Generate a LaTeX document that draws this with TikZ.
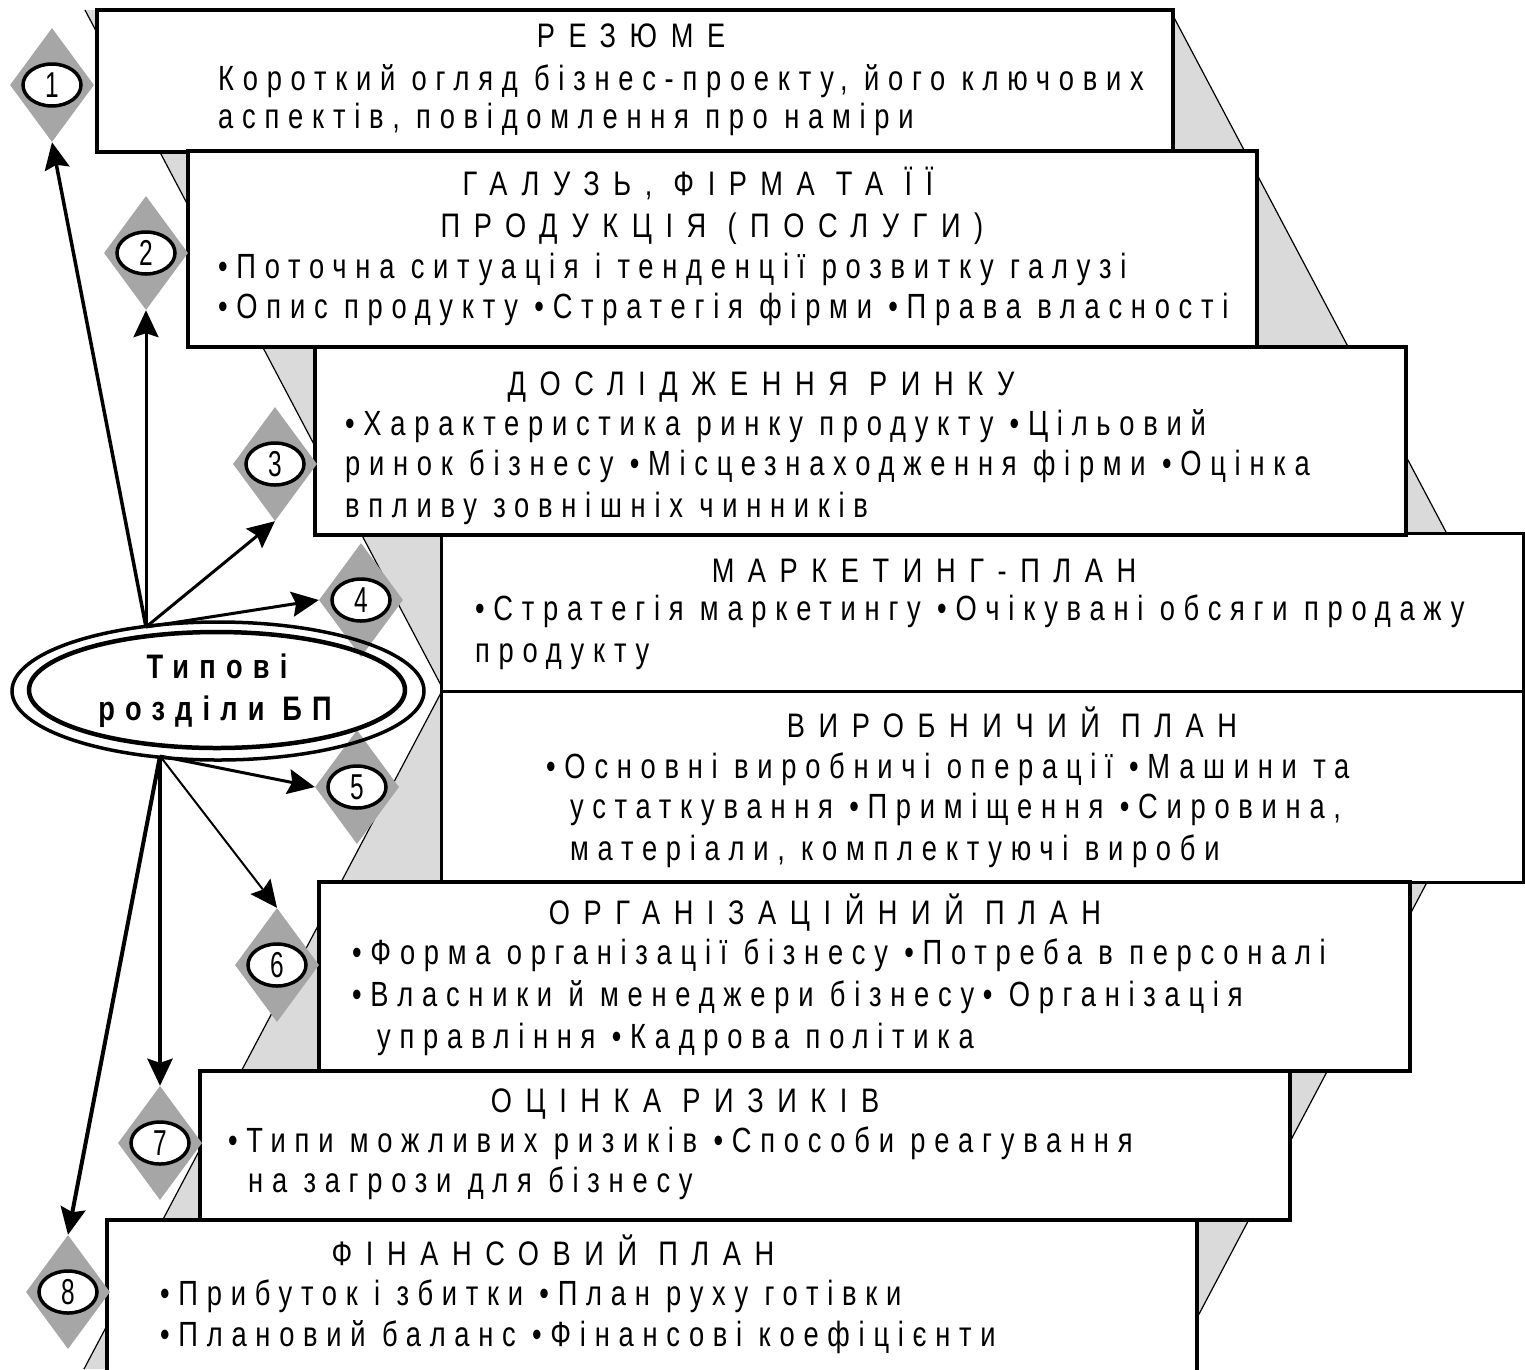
\documentclass[tikz,border=0pt]{standalone}
\usepackage{fontspec}
\setmainfont{Liberation Sans}[FakeStretch=0.78]
\newfontfamily\bodyfont{Liberation Sans}[FakeStretch=0.78,LetterSpace=25]
\newfontfamily\titlefont{Liberation Sans}[FakeStretch=0.8,LetterSpace=40]
\newfontfamily\numfont{Liberation Sans}[FakeStretch=0.68]
\newfontfamily\centrefont{Liberation Sans}[FakeStretch=0.8,LetterSpace=30]
\usetikzlibrary{shapes.geometric,arrows.meta}
\definecolor{bggrey}{RGB}{218,218,218}
\definecolor{diagrey}{RGB}{166,166,166}
\tikzset{
  box/.style={draw, fill=white, line width=4.5pt, inner sep=0},
  thinbox/.style={draw, fill=white, line width=3pt, inner sep=0},
  bline/.style={anchor=base west, inner sep=0, font=\bodyfont\fontsize{35}{40}\selectfont},
  ttl/.style={anchor=base, inner sep=0, font=\titlefont\fontsize{34}{40}\selectfont},
  dia/.style={diamond, fill=diagrey, minimum width=84pt, minimum height=114pt, inner sep=0},
  num/.style={ellipse, draw, fill=white, line width=3.5pt, minimum width=58pt, minimum height=42pt, inner sep=0, font=\numfont\fontsize{36}{36}\selectfont},
  arr/.style={line width=3.5pt, -{Stealth[length=27pt,width=25pt,inset=4pt]}},
  ctr/.style={anchor=base, inner sep=0, font=\centrefont\bfseries\fontsize{34}{40}\selectfont},
}
\begin{document}
\begin{tikzpicture}[x=1pt,y=-1pt]
\useasboundingbox (0,0) rectangle (1525,1369);
\clip (0,0) rectangle (1525,1369);
% grey chevron band
\fill[bggrey] (85,10) -- (1170,10) -- (1529,689) -- (1170,1369) -- (84,1369) -- (443,689) -- cycle;
\draw[line width=1.2pt] (85,10) -- (443,689) -- (84,1369);
\draw[line width=1.2pt] (1170,10) -- (1529,689) -- (1170,1369);
% boxes
\node[thinbox, minimum width=1082pt, minimum height=158pt] (b4) at (982,612) {};
\node[thinbox, minimum width=1082pt, minimum height=191pt] (b5) at (982,786.5) {};
\node[box, minimum width=1076pt, minimum height=142pt] (b1) at (635,81) {};
\node[box, minimum width=1069pt, minimum height=196pt] (b2) at (722.5,249) {};
\node[box, minimum width=1091pt, minimum height=188pt] (b3) at (860.5,441) {};
\node[box, minimum width=1091pt, minimum height=189pt] (b6) at (864.5,976.5) {};
\node[box, minimum width=1090pt, minimum height=149pt] (b7) at (745,1145.5) {};
\node[box, minimum width=1090pt, minimum height=170pt] (b8) at (652,1305) {};
% texts box 1
\node[ttl] (t1) at (631,47) {РЕЗЮМЕ};
\node[bline] (t1a) at (218,90) {Короткий огляд бізнес-проекту, його ключових};
\node[bline] (t1b) at (218,128) {аспектів, повідомлення про наміри};
% box 2
\node[ttl] (t2) at (698,195) {ГАЛУЗЬ, ФІРМА ТА ЇЇ};
\node[ttl] (t2t) at (712,237) {ПРОДУКЦІЯ (ПОСЛУГИ)};
\node[bline] (t2a) at (218,278) {•Поточна ситуація і тенденції розвитку галузі};
\node[bline] (t2b) at (218,318) {•Опис продукту •Стратегія фірми •Права власності};
% box 3
\node[ttl] (t3) at (761,395) {ДОСЛІДЖЕННЯ РИНКУ};
\node[bline] (t3a) at (345,435) {•Характеристика ринку продукту •Цільовий};
\node[bline] (t3b) at (345,475) {ринок бізнесу •Місцезнаходження фірми •Оцінка};
\node[bline] (t3c) at (345,517) {впливу зовнішніх чинників};
% box 4
\node[ttl] (t4) at (924,582) {МАРКЕТИНГ-ПЛАН};
\node[bline] (t4a) at (475,620) {•Стратегія маркетингу •Очікувані обсяги продажу};
\node[bline] (t4b) at (475,662) {продукту};
% box 5
\node[ttl] (t5) at (1012,737) {ВИРОБНИЧИЙ ПЛАН};
\node[bline] (t5a) at (546,778) {•Основні виробничі операції •Машини та};
\node[bline] (t5b) at (570,818) {устаткування •Приміщення •Сировина,};
\node[bline] (t5c) at (570,860) {матеріали, комплектуючі вироби};
% box 6
\node[ttl] (t6) at (825,924) {ОРГАНІЗАЦІЙНИЙ ПЛАН};
\node[bline] (t6a) at (352,964) {•Форма організації бізнесу •Потреба в персоналі};
\node[bline] (t6b) at (352,1006) {•Власники й менеджери бізнесу• Організація};
\node[bline] (t6c) at (377,1048) {управління •Кадрова політика};
% box 7
\node[ttl] (t7) at (685,1112) {ОЦІНКА РИЗИКІВ};
\node[bline] (t7a) at (228,1152) {•Типи можливих ризиків •Способи реагування};
\node[bline] (t7b) at (248,1192) {на загрози для бізнесу};
% box 8
\node[ttl] (t8) at (553,1265) {ФІНАНСОВИЙ ПЛАН};
\node[bline] (t8a) at (160,1305) {•Прибуток і збитки •План руху готівки};
\node[bline] (t8b) at (160,1346) {•Плановий баланс •Фінансові коефіцієнти};
% diamonds
\node[dia] (d1) at (52,85) {};
\node[dia] (d2) at (146,253) {};
\node[dia] (d3) at (275,464) {};
\node[dia] (d4) at (361,600) {};
\node[dia] (d5) at (357,787) {};
\node[dia] (d6) at (277,965) {};
\node[dia] (d7) at (160,1143) {};
\node[dia] (d8) at (68,1292) {};
\node[num] (n1) at (d1) {1};
\node[num] (n2) at (d2) {2};
\node[num] (n3) at (d3) {3};
\node[num] (n4) at (d4) {4};
\node[num] (n5) at (d5) {5};
\node[num] (n6) at (d6) {6};
\node[num] (n7) at (d7) {7};
\node[num] (n8) at (d8) {8};
% central ellipse
\node[ellipse, draw, line width=3.5pt, minimum width=412pt, minimum height=138pt, inner sep=0] (eo) at (218,691) {};
\node[ellipse, draw, line width=4.5pt, minimum width=376pt, minimum height=116pt, inner sep=0] (ei) at (217,690) {};
\node[ctr] (c1) at (217,678) {Типові};
\node[ctr] (c2) at (215,720) {розділи БП};
\coordinate (ct) at (146,627);
\coordinate (cb) at (160,756);
% arrows
\draw[arr] (ct) -- (d1.south);
\draw[arr, line width=3pt] (ct) -- (d2.south);
\draw[arr, line width=3pt] (ct) -- (d3.south);
\draw[arr, line width=3pt] (ct) -- (d4.west);
\draw[arr, line width=3pt] (cb) -- (d5.west);
\draw[arr, line width=2pt] (cb) -- (d6.north);
\draw[arr, line width=4pt] (cb) -- (d7.north);
\draw[arr, line width=4pt] (cb) -- (d8.north);
\end{tikzpicture}
\end{document}
